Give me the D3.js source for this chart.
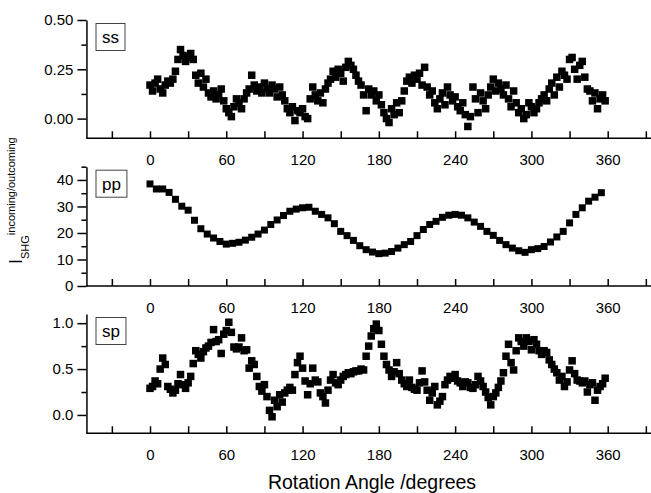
<!DOCTYPE html>
<html>
<head>
<meta charset="utf-8">
<script src="https://cdn.jsdelivr.net/npm/d3@7"></script>
<style>
  body { margin: 0; background: #fff; }
  text { font-family: "Liberation Sans", Arial, sans-serif; }
</style>
</head>
<body>
<svg id="chart"></svg>
<script>
// rotation angles (degrees) for the ss and sp scans
const angles = [0,2,4,6,8,10,12,14,16,18,20,22,24,26,28,30,32,34,36,38,40,42,44,46,48,50,52,54,56,58,
  60,62,64,66,68,70,72,74,76,78,80,82,84,86,88,90,92,94,96,98,100,102,104,106,108,110,112,114,116,118,
  120,122,124,126,128,130,132,134,136,138,140,142,144,146,148,150,152,154,156,158,160,162,164,166,168,170,172,174,176,178,
  180,182,184,186,188,190,192,194,196,198,200,202,204,206,208,210,212,214,216,218,220,222,224,226,228,230,232,234,236,238,
  240,242,244,246,248,250,252,254,256,258,260,262,264,266,268,270,272,274,276,278,280,282,284,286,288,290,292,294,296,298,
  300,302,304,306,308,310,312,314,316,318,320,322,324,326,328,330,332,334,336,338,340,342,344,346,348,350,352,354,356,358];

const ssValue = [.17,.14,.18,.20,.15,.13,.17,.19,.18,.20, .24,.30,.35,.32,.29,.31,.33,.30,.22,.18,
  .23,.16,.20,.13,.11,.14,.10,.12,.15,.09, .05,.03,.01,.06,.10,.08,.05,.10,.13,.15,
  .22,.17,.14,.16,.13,.18,.15,.13,.17,.15, .11,.16,.12,.09,.05,.03,.06,-.01,.04,.03,
  .05,.01,.00,.10,.16,.12,.09,.13,.08,.15, .18,.20,.24,.21,.25,.23,.19,.26,.29,.27,
  .25,.22,.19,.17,.12,.04,.15,.12,.14,.09, .12,.07,.03,.00,-.02,.05,.02,.08,.03,.09,
  .14,.19,.21,.18,.22,.20,.23,.17,.26,.16, .12,.14,.08,.05,.10,.13,.07,.16,.12,.09,
  .11,.06,.04,.08,.02,-.04,.01,.16,.10,.03, .13,.09,.05,.12,.16,.20,.14,.18,.15,.12,
  .17,.10,.06,.14,.08,.03,.05,.00,.02,.08, .06,.03,.05,.08,.10,.12,.09,.15,.18,.12,
  .21,.16,.24,.22,.20,.30,.31,.25,.20,.27, .29,.21,.15,.14,.09,.13,.05,.10,.12,.09];

const spValue = [.29,.31,.37,.34,.50,.62,.55,.31,.28,.24, .27,.34,.44,.33,.29,.35,.42,.56,.70,.66,
  .62,.69,.73,.75,.79,.93,.80,.82,.67,.88, .92,1.01,.90,.74,.72,.74,.84,.70,.71,.51,
  .59,.55,.42,.31,.26,.33,.20,.05,-.02,.16, .09,.22,.14,.24,.27,.30,.27,.44,.57,.64,
  .51,.37,.22,.34,.51,.38,.36,.24,.20,.13, .27,.38,.44,.35,.33,.38,.42,.44,.46,.45,
  .47,.48,.48,.50,.49,.64,.75,.86,.94,.99, .92,.77,.64,.55,.49,.42,.47,.57,.45,.38,
  .34,.31,.38,.30,.28,.27,.35,.48,.36,.27, .16,.24,.31,.11,.15,.20,.33,.38,.42,.40,
  .44,.37,.35,.31,.36,.35,.30,.29,.33,.42, .37,.31,.25,.19,.11,.20,.24,.30,.37,.46,
  .64,.77,.57,.49,.70,.84,.80,.75,.84,.80, .71,.82,.77,.70,.66,.70,.68,.60,.55,.50,
  .46,.38,.42,.31,.36,.49,.59,.45,.38,.37, .35,.37,.25,.33,.35,.16,.27,.31,.34,.40];

// pp scan, every 5 degrees
const ppAngles = [0,5,10,15,20,25,30,35,40,45,50,55,60,65,70,75,80,85,90,95,100,105,110,115,
  120,125,130,135,140,145,150,155,160,165,170,175,180,185,190,195,200,205,210,215,220,225,230,235,
  240,245,250,255,260,265,270,275,280,285,290,295,300,305,310,315,320,325,330,335,340,345,350,355];
const ppValue = [38.5,36.6,36.6,35.3,32.7,30.1,28.6,24.8,21.6,19.6,18.1,16.8,15.8,16.1,16.5,17.3,18.4,19.6,21.1,23.2,24.9,26.6,28.2,29.0,
  29.5,29.7,28.2,27.0,25.7,23.5,20.6,19.0,17.2,15.2,13.7,12.8,12.2,12.4,13.0,14.3,15.6,16.8,19.0,21.3,23.2,24.4,25.9,26.7,
  27.0,26.7,25.7,24.1,22.5,20.6,19.1,17.2,15.6,14.3,13.3,12.7,13.7,14.1,14.9,16.6,18.5,20.6,23.8,27.0,29.5,32.0,33.5,35.2];

const xTicks = [0, 60, 120, 180, 240, 300, 360];
const xMinor = [-30, 30, 90, 150, 210, 270, 330, 390];
const ssTicks = [0, 0.25, 0.5], ssMinor = [0.125, 0.375];
const ppTicks = [0, 10, 20, 30, 40], ppMinor = [5, 15, 25, 35, 45];
const spTicks = [0, 0.5, 1.0], spMinor = [0.25, 0.75];

const w = 651, h = 493;
const svg = d3.select('#chart').attr('width', w).attr('height', h);

// 0 deg sits at x=150, 360 deg at x=607.7
const xScale = d3.scaleLinear().domain([0, 360]).range([150, 607.7]);
const xLeft = xScale(-50);

const panels = [
  {label: 'ss', ang: angles, val: ssValue, size: 7.5, domain: [-0.1, 0.5], top: 20, bottom: 138.3, ticks: ssTicks, minor: ssMinor, fmt: d3.format('.2f')},
  {label: 'pp', ang: ppAngles, val: ppValue, size: 7, domain: [0, 45], top: 166.7, bottom: 286, ticks: ppTicks, minor: ppMinor, fmt: d3.format('d')},
  {label: 'sp', ang: angles, val: spValue, size: 7.5, domain: [-0.2, 1.1], top: 314, bottom: 433.3, ticks: spTicks, minor: spMinor, fmt: d3.format('.1f')}
];

panels.forEach(p => {
  let y = d3.scaleLinear().domain(p.domain).range([p.bottom, p.top]);
  let g = svg.append('g');

  // bottom axis, ticks pointing into the plot
  let xAxis = g.append('g')
    .attr('transform', `translate(0,${p.bottom})`)
    .call(d3.axisBottom(xScale).tickValues(xTicks).tickSizeInner(-7).tickSizeOuter(0).tickPadding(16));
  xAxis.select('.domain').attr('d', `M${xLeft},0H${w + 5}`);
  g.append('g')
    .attr('transform', `translate(0,${p.bottom})`)
    .call(d3.axisBottom(xScale).tickValues(xMinor).tickSizeInner(-7).tickSizeOuter(0).tickFormat(''))
    .select('.domain').remove();

  // left axis
  g.append('g')
    .attr('transform', `translate(${xLeft},0)`)
    .call(d3.axisLeft(y).tickValues(p.ticks).tickFormat(p.fmt).tickSizeInner(9).tickSizeOuter(0).tickPadding(4));
  g.append('g')
    .attr('transform', `translate(${xLeft},0)`)
    .call(d3.axisLeft(y).tickValues(p.minor).tickSizeInner(5).tickSizeOuter(0).tickFormat(''))
    .select('.domain').remove();

  g.selectAll('.domain, .tick line').attr('stroke', '#000').attr('stroke-width', 1.5);
  g.selectAll('.tick text').attr('font-size', 15).attr('fill', '#000')
    .style('font-family', '"Liberation Sans", Arial, sans-serif');

  // data squares
  g.selectAll('rect.pt')
    .data(p.val)
    .enter()
    .append('rect')
    .attr('class', 'pt')
    .attr('x', (d, i) => xScale(p.ang[i]) - p.size / 2)
    .attr('y', d => y(d) - p.size / 2)
    .attr('width', p.size)
    .attr('height', p.size)
    .attr('fill', '#000');

  // panel tag in a box
  let box = g.append('rect')
    .attr('x', 96)
    .attr('y', p.top + 3.5)
    .attr('height', 27)
    .attr('fill', '#fff')
    .attr('stroke', '#444')
    .attr('stroke-width', 1);
  let tag = g.append('text')
    .attr('x', 102)
    .attr('y', p.top + 23)
    .attr('font-size', 17)
    .text(p.label);
  box.attr('width', tag.node().getBBox().width + 12);
});

// x axis title
svg.append('text')
  .attr('x', 372)
  .attr('y', 489)
  .attr('text-anchor', 'middle')
  .attr('font-size', 19.5)
  .text('Rotation Angle /degrees');

// y axis title: I_SHG^incoming/outcoming
let yt = svg.append('text')
  .attr('transform', 'translate(22,264) rotate(-90)')
  .attr('font-size', 18);
yt.append('tspan').text('I');
yt.append('tspan').attr('font-size', 11).attr('dy', 7).text('SHG');
yt.append('tspan').attr('font-size', 11).attr('dy', -14).text('incoming/outcoming');
</script>
</body>
</html>
